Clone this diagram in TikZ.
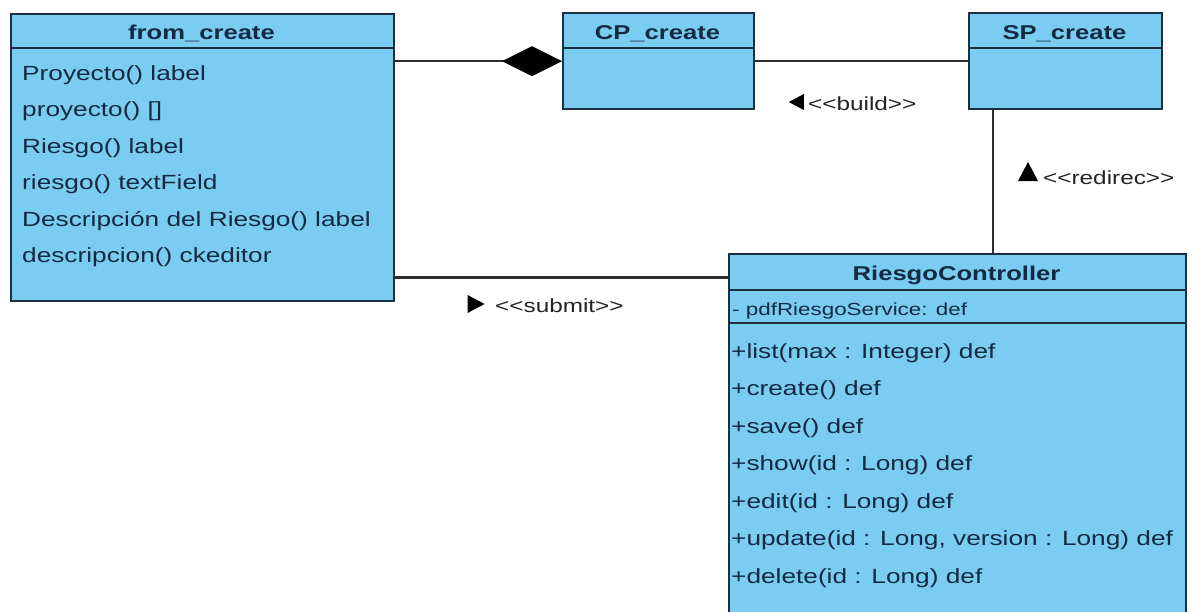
\documentclass[tikz,border=0pt]{standalone}
\usepackage{fontspec}
\setmainfont{Liberation Sans}
\newfontfamily\umlfont[FakeStretch=1.28]{Liberation Sans}
\usetikzlibrary{arrows.meta,calc,shapes.geometric}

\definecolor{classfill}{RGB}{122,204,240}
\definecolor{classline}{RGB}{30,48,64}
\definecolor{classtext}{RGB}{18,42,68}
\definecolor{linkline}{RGB}{45,45,45}
\definecolor{linktext}{RGB}{35,35,35}

\tikzset{
  classbox/.style={draw=classline, line width=2.4pt, fill=classfill,
    rectangle, inner sep=0pt, anchor=north west},
  sepline/.style={draw=classline, line width=2.4pt},
  classtitle/.style={anchor=base, inner sep=0pt, text=classtext,
    font=\umlfont\fontsize{20}{20}\selectfont\bfseries},
  member/.style={anchor=base west, inner sep=0pt, text=classtext,
    font=\umlfont\fontsize{20.5}{20}\selectfont},
  smallmember/.style={anchor=base west, inner sep=0pt, text=classtext,
    font=\umlfont\fontsize{17.5}{18}\selectfont},
  link/.style={draw=linkline, line width=2.2pt},
  stereo/.style={anchor=base west, inner sep=0pt, text=linktext,
    font=\umlfont\fontsize{19}{19}\selectfont},
  dirmark/.style={isosceles triangle, isosceles triangle stretches,
    fill=black, inner sep=0pt, minimum width=16pt, minimum height=15pt},
}

\begin{document}
\begin{tikzpicture}[x=1pt,y=-1pt]
\useasboundingbox (0,0) rectangle (1195,611);

% --- class boxes ---
\node[classbox, minimum width=383pt, minimum height=287pt] (fc) at (10,13) {};
\node[classbox, minimum width=191pt, minimum height=96pt]  (cp) at (562,12) {};
\node[classbox, minimum width=193pt, minimum height=96pt]  (sp) at (968,12) {};
\node[classbox, minimum width=457pt, minimum height=380pt] (rc) at (728,253) {};

% compartments
\draw[sepline] ($(fc.north west)+(0,35)$) -- ($(fc.north east)+(0,35)$);
\draw[sepline] ($(cp.north west)+(0,36)$) -- ($(cp.north east)+(0,36)$);
\draw[sepline] ($(sp.north west)+(0,36)$) -- ($(sp.north east)+(0,36)$);
\draw[sepline] ($(rc.north west)+(0,37)$) -- ($(rc.north east)+(0,37)$);
\draw[sepline] ($(rc.north west)+(0,70)$) -- ($(rc.north east)+(0,70)$);

% titles
\node[classtitle] (fct) at (201.5,39) {from\_create};
\node[classtitle] (cpt) at (657.5,39) {CP\_create};
\node[classtitle] (spt) at (1064.5,39) {SP\_create};
\node[classtitle] (rct) at (956.5,280) {RiesgoController};

% from_create members
\node[member] (f1) at (22,80)    {Proyecto() label};
\node[member] (f2) at (22,116.5) {proyecto() []};
\node[member] (f3) at (22,153)   {Riesgo() label};
\node[member] (f4) at (22,189.5) {riesgo() textField};
\node[member] (f5) at (22,226)   {Descripción del Riesgo() label};
\node[member] (f6) at (22,262)   {descripcion() ckeditor};

% RiesgoController members
\node[smallmember] (ra) at (732,315) {- pdfRiesgoService: def};
\node[member] (r1) at (731,358)   {+list(max : Integer) def};
\node[member] (r2) at (731,395.5) {+create() def};
\node[member] (r3) at (731,433)   {+save() def};
\node[member] (r4) at (731,470.5) {+show(id : Long) def};
\node[member] (r5) at (731,508)   {+edit(id : Long) def};
\node[member] (r6) at (731,545.5) {+update(id : Long, version : Long) def};
\node[member] (r7) at (731,583)   {+delete(id : Long) def};

% --- relations ---
\draw[link, -{Diamond[length=60pt,width=30pt,color=black,fill=black]}] (fc.east |- cp.west) -- (cp.west);
\draw[link] (cp.east) -- (sp.west);
\coordinate (spdown) at ($(sp.south west)+(25,0)$);
\draw[link] (spdown) -- (spdown |- rc.north);
\coordinate (fcout) at ($(fc.south east)+(0,-25)$);
\draw[link] (fcout) -- (fcout -| rc.west);

% stereotype labels with direction marks
\node[dirmark, shape border rotate=180] (tbuild) at (799,102) {};
\node[stereo] (lbuild) at (808,110) {{<}{<}build{>}{>}};
\node[dirmark, shape border rotate=90, minimum width=20pt, minimum height=19pt] (tredir) at (1028,175) {};
\node[stereo] (lredir) at (1043,184) {{<}{<}redirec{>}{>}};
\node[dirmark, minimum width=18pt, minimum height=17pt] (tsubmit) at (473,304) {};
\node[stereo] (lsubmit) at (495,312) {{<}{<}submit{>}{>}};
\end{tikzpicture}
\end{document}
